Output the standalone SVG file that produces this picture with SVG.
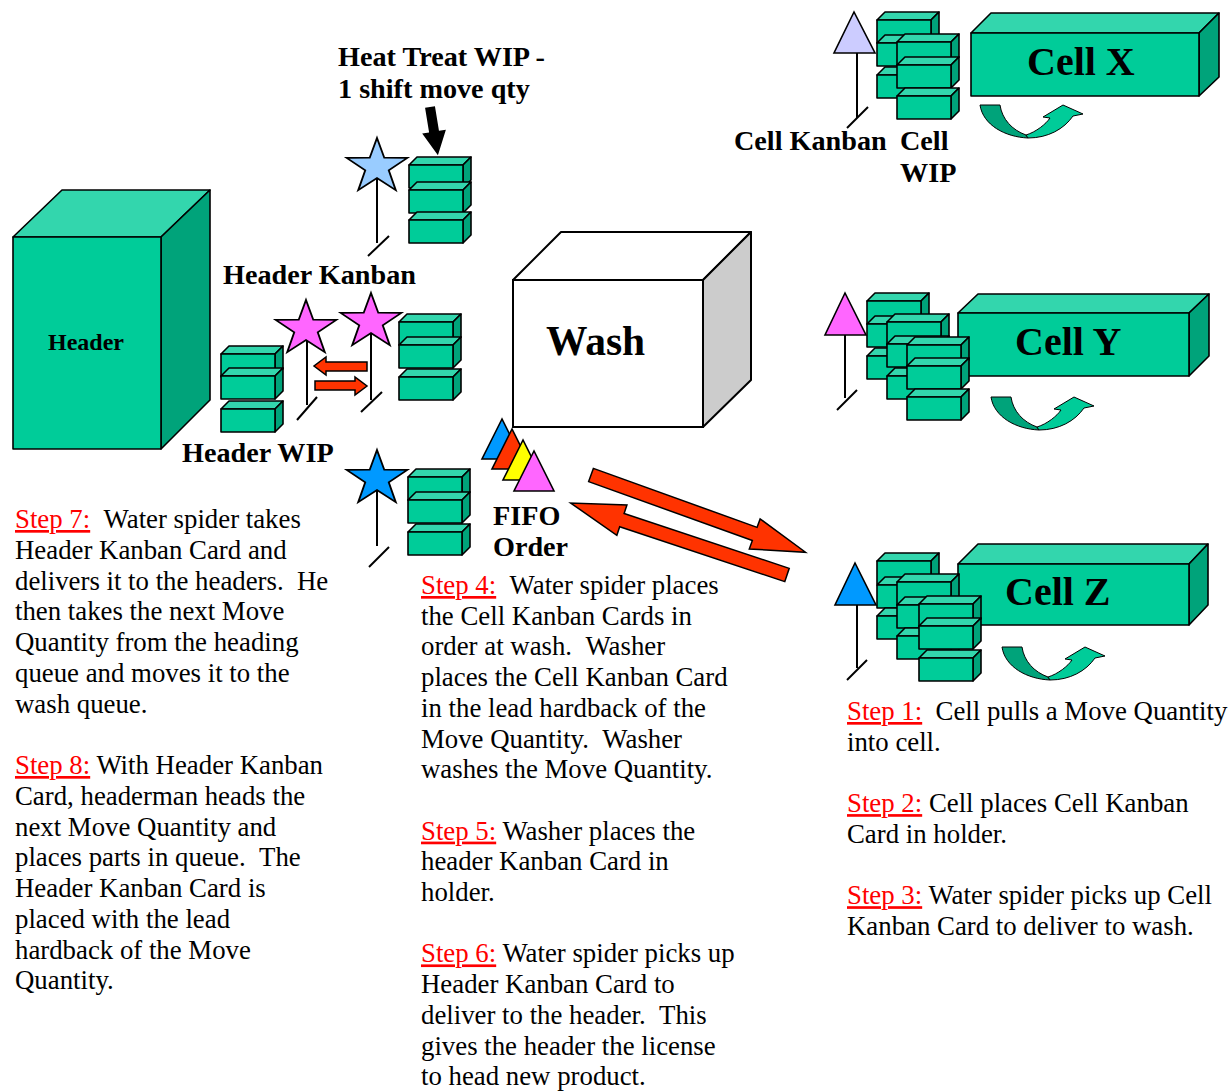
<svg xmlns="http://www.w3.org/2000/svg" xmlns:xlink="http://www.w3.org/1999/xlink" width="1228" height="1092" viewBox="0 0 1228 1092">
<style>
.bf{fill:#00CC99;stroke:#000;stroke-width:1.6;stroke-linejoin:round}
.bt{fill:#33D6AD;stroke:#000;stroke-width:1.6;stroke-linejoin:round}
.bs{fill:#00A37A;stroke:#000;stroke-width:1.6;stroke-linejoin:round}
.ln{stroke:#000;stroke-width:2;fill:none}
.red{fill:#FF3300;stroke:#000;stroke-width:1.5;stroke-linejoin:miter}
.lbl{font-family:"Liberation Serif","Times New Roman",serif;font-weight:bold;font-size:28.2px;fill:#000}
.big{font-family:"Liberation Serif","Times New Roman",serif;font-weight:bold;font-size:40px;fill:#000}
.body{font-family:"Liberation Serif","Times New Roman",serif;font-size:26.8px;fill:#000}
.step{fill:#FF0000;text-decoration:underline}
.ud{fill:#00A37A;stroke:#000;stroke-width:1}
.ul{fill:#00CC99;stroke:#000;stroke-width:1}
</style>
<defs>
<g id="box">
<polygon class="bt" points="0,0 8,-8 62,-8 54,0"/>
<polygon class="bs" points="54,0 62,-8 62,15 54,23"/>
<rect class="bf" x="0" y="0" width="54" height="23"/>
</g>
<polygon id="star" points="0,-31 7.05,-9.71 29.48,-9.58 11.41,3.71 18.22,25.08 0,12 -18.22,25.08 -11.41,3.71 -29.48,-9.58 -7.05,-9.71" stroke="#000" stroke-width="1.8" stroke-linejoin="miter"/>
<g id="uarrow">
<path class="ud" d="M0,0 L20,0 C22,14 32,25 46,30 L48,33 C25,32 3,20 0,0 Z"/>
<path class="ul" d="M46,30 C56,27 66,19 70,13 L63,12 L83,0 L103,9 L93,11 C84,24 68,33 48,33 Z"/>
</g>
<polygon id="bigarrow" class="red" points="0,-7 174,-7 174,-16 228,0 174,16 174,7 0,7"/>
</defs>

<!-- Header -->
<g id="header">
<polygon class="bt" stroke-width="2" points="13,237 62,190 210,190 161,237"/>
<polygon class="bs" stroke-width="2" points="161,237 210,190 210,400 161,449"/>
<rect class="bf" stroke-width="2" x="13" y="237" width="148" height="212"/>
<text class="lbl" x="48" y="350" style="font-size:24px">Header</text>
</g>

<!-- Wash -->
<g id="wash">
<polygon fill="#FFFFFF" stroke="#000" stroke-width="2" stroke-linejoin="round" points="513,280 561,232 751,232 703,280"/>
<polygon fill="#CCCCCC" stroke="#000" stroke-width="2" stroke-linejoin="round" points="703,280 751,232 751,380 703,427"/>
<rect fill="#FFFFFF" stroke="#000" stroke-width="2" x="513" y="280" width="190" height="147"/>
<text class="big" x="546" y="355" style="font-size:41.5px">Wash</text>
</g>

<!-- Heat treat WIP -->
<g id="heat-treat-wip">
<text class="lbl" x="338" y="66">Heat Treat WIP -</text>
<text class="lbl" x="338" y="98">1 shift move qty</text>
<use href="#box" x="409" y="165"/>
<use href="#box" x="409" y="190"/>
<use href="#box" x="409" y="220"/>
</g>

<!-- Header kanban posts -->
<g id="header-kanban-top">
<line class="ln" x1="377" y1="170" x2="377" y2="243"/>
<line class="ln" x1="368" y1="256" x2="389" y2="236"/>
<use href="#star" fill="#99CCFF" transform="translate(377,166.8) scale(1.03,0.93)"/>
</g>
<g id="header-kanban">
<text class="lbl" x="223" y="284">Header Kanban</text>
<line class="ln" x1="307" y1="330" x2="307" y2="405"/>
<line class="ln" x1="297" y1="420" x2="317" y2="397"/>
<use href="#star" fill="#FF66FF" transform="translate(306,328.8) scale(1.03,0.93)"/>
<line class="ln" x1="371" y1="322" x2="371" y2="400"/>
<line class="ln" x1="361" y1="412" x2="382" y2="392"/>
<use href="#star" fill="#FF66FF" transform="translate(371,321.8) scale(1.03,0.93)"/>
<use href="#box" x="399" y="322"/>
<use href="#box" x="399" y="345"/>
<use href="#box" x="399" y="377"/>
</g>
<g id="header-wip">
<use href="#box" x="221" y="354"/>
<use href="#box" x="221" y="376"/>
<use href="#box" x="221" y="409"/>
<text class="lbl" x="182" y="462">Header WIP</text>
</g>
<g id="header-kanban-bottom">
<line class="ln" x1="377" y1="480" x2="377" y2="546"/>
<line class="ln" x1="369" y1="567" x2="389" y2="547"/>
<use href="#star" fill="#0099FF" transform="translate(377,478.8) scale(1.03,0.93)"/>
<use href="#box" x="408" y="477"/>
<use href="#box" x="408" y="500"/>
<use href="#box" x="408" y="532"/>
</g>

<!-- FIFO -->
<g id="fifo">
<polygon fill="#0099FF" stroke="#000" stroke-width="1.6" points="502,419 482,459 522,459"/>
<polygon fill="#FF3300" stroke="#000" stroke-width="1.6" points="512,429 492,469 532,469"/>
<polygon fill="#FFFF00" stroke="#000" stroke-width="1.6" points="523,440 503,480 543,480"/>
<polygon fill="#FF66FF" stroke="#000" stroke-width="1.6" points="534,451 514,491 554,491"/>
<text class="lbl" x="493" y="525">FIFO</text>
<text class="lbl" x="493" y="556">Order</text>
</g>

<!-- Cell X -->
<g id="cell-x">
<polygon class="bt" stroke-width="2" points="971,33 991,13 1219,13 1199,33"/>
<polygon class="bs" stroke-width="2" points="1199,33 1219,13 1219,77 1199,96"/>
<rect class="bf" stroke-width="2" x="971" y="33" width="228" height="63"/>
<text class="big" x="1027" y="75">Cell X</text>
<use href="#box" x="877" y="20"/>
<use href="#box" x="877" y="43"/>
<use href="#box" x="877" y="75"/>
<use href="#box" x="897" y="42"/>
<use href="#box" x="897" y="65"/>
<use href="#box" x="897" y="96"/>
<line class="ln" x1="857" y1="50" x2="857" y2="118"/>
<line class="ln" x1="847" y1="128" x2="868" y2="107"/>
<polygon fill="#CCCCFF" stroke="#000" stroke-width="1.6" points="854,12 834,53 875,53"/>
<use href="#uarrow" x="980" y="105"/>
<text class="lbl" x="734" y="150">Cell Kanban</text>
<text class="lbl" x="900" y="150">Cell</text>
<text class="lbl" x="900" y="182">WIP</text>
</g>

<!-- Cell Y -->
<g id="cell-y">
<polygon class="bt" stroke-width="2" points="958,313 978,294 1209,294 1189,313"/>
<polygon class="bs" stroke-width="2" points="1189,313 1209,294 1209,356 1189,376"/>
<rect class="bf" stroke-width="2" x="958" y="313" width="231" height="63"/>
<text class="big" x="1015" y="355">Cell Y</text>
<use href="#box" x="867" y="301"/>
<use href="#box" x="867" y="324"/>
<use href="#box" x="867" y="356"/>
<use href="#box" x="887" y="322"/>
<use href="#box" x="887" y="344"/>
<use href="#box" x="887" y="376"/>
<use href="#box" x="907" y="345"/>
<use href="#box" x="907" y="366"/>
<use href="#box" x="907" y="397"/>
<line class="ln" x1="845" y1="330" x2="845" y2="398"/>
<line class="ln" x1="837" y1="410" x2="857" y2="390"/>
<polygon fill="#FF66FF" stroke="#000" stroke-width="1.6" points="845,293 825,335 866,335"/>
<use href="#uarrow" x="991" y="397"/>
</g>

<!-- Cell Z -->
<g id="cell-z">
<polygon class="bt" stroke-width="2" points="958,564 978,544 1208,544 1189,564"/>
<polygon class="bs" stroke-width="2" points="1189,564 1208,544 1208,605 1189,625"/>
<rect class="bf" stroke-width="2" x="958" y="564" width="231" height="61"/>
<text class="big" x="1005" y="605">Cell Z</text>
<use href="#box" x="877" y="561"/>
<use href="#box" x="877" y="585"/>
<use href="#box" x="877" y="616"/>
<use href="#box" x="897" y="582"/>
<use href="#box" x="897" y="605"/>
<use href="#box" x="897" y="636"/>
<use href="#box" x="919" y="604"/>
<use href="#box" x="919" y="626"/>
<use href="#box" x="919" y="658"/>
<line class="ln" x1="857" y1="600" x2="857" y2="668"/>
<line class="ln" x1="847" y1="680" x2="867" y2="660"/>
<polygon fill="#0099FF" stroke="#000" stroke-width="1.6" points="855,563 835,605 876,605"/>
<use href="#uarrow" x="1002" y="647"/>
</g>

<!-- Connectors -->
<g id="connectors">
<polygon fill="#000" points="-5,0 5,0 5,25 12,25 0,49 -12,25 -5,25" transform="translate(430,107) rotate(-9.3)"/>
<polygon class="red" points="367,362 326,362 326,357 314,366 326,375 326,371 367,371"/>
<polygon class="red" points="315,381 355,381 355,377 367,386 355,395 355,390 315,390"/>
<use href="#bigarrow" transform="translate(591,475) rotate(19.8)"/>
<use href="#bigarrow" transform="translate(787,575) rotate(198.4)"/>
</g>

<!-- Step texts -->
<g id="steps-left" class="body">
<text x="15" y="528"><tspan class="step">Step 7:</tspan> &#160;Water spider takes</text>
<text x="15" y="558.75">Header Kanban Card and</text>
<text x="15" y="589.5">delivers it to the headers. &#160;He</text>
<text x="15" y="620.25">then takes the next Move</text>
<text x="15" y="651">Quantity from the heading</text>
<text x="15" y="681.75">queue and moves it to the</text>
<text x="15" y="712.5">wash queue.</text>
<text x="15" y="774"><tspan class="step">Step 8:</tspan> With Header Kanban</text>
<text x="15" y="804.75">Card, headerman heads the</text>
<text x="15" y="835.5">next Move Quantity and</text>
<text x="15" y="866.25">places parts in queue. &#160;The</text>
<text x="15" y="897">Header Kanban Card is</text>
<text x="15" y="927.75">placed with the lead</text>
<text x="15" y="958.5">hardback of the Move</text>
<text x="15" y="989.25">Quantity.</text>
</g>
<g id="steps-middle" class="body">
<text x="421" y="594"><tspan class="step">Step 4:</tspan> &#160;Water spider places</text>
<text x="421" y="624.7">the Cell Kanban Cards in</text>
<text x="421" y="655.4">order at wash. &#160;Washer</text>
<text x="421" y="686.1">places the Cell Kanban Card</text>
<text x="421" y="716.8">in the lead hardback of the</text>
<text x="421" y="747.5">Move Quantity. &#160;Washer</text>
<text x="421" y="778.2">washes the Move Quantity.</text>
<text x="421" y="839.6"><tspan class="step">Step 5:</tspan> Washer places the</text>
<text x="421" y="870.3">header Kanban Card in</text>
<text x="421" y="901">holder.</text>
<text x="421" y="962.4"><tspan class="step">Step 6:</tspan> Water spider picks up</text>
<text x="421" y="993.1">Header Kanban Card to</text>
<text x="421" y="1023.8">deliver to the header. &#160;This</text>
<text x="421" y="1054.5">gives the header the license</text>
<text x="421" y="1085.2">to head new product.</text>
</g>
<g id="steps-right" class="body">
<text x="847" y="720"><tspan class="step">Step 1:</tspan> &#160;Cell pulls a Move Quantity</text>
<text x="847" y="750.7">into cell.</text>
<text x="847" y="812.1"><tspan class="step">Step 2:</tspan> Cell places Cell Kanban</text>
<text x="847" y="842.8">Card in holder.</text>
<text x="847" y="904.2"><tspan class="step">Step 3:</tspan> Water spider picks up Cell</text>
<text x="847" y="934.9">Kanban Card to deliver to wash.</text>
</g>
</svg>
